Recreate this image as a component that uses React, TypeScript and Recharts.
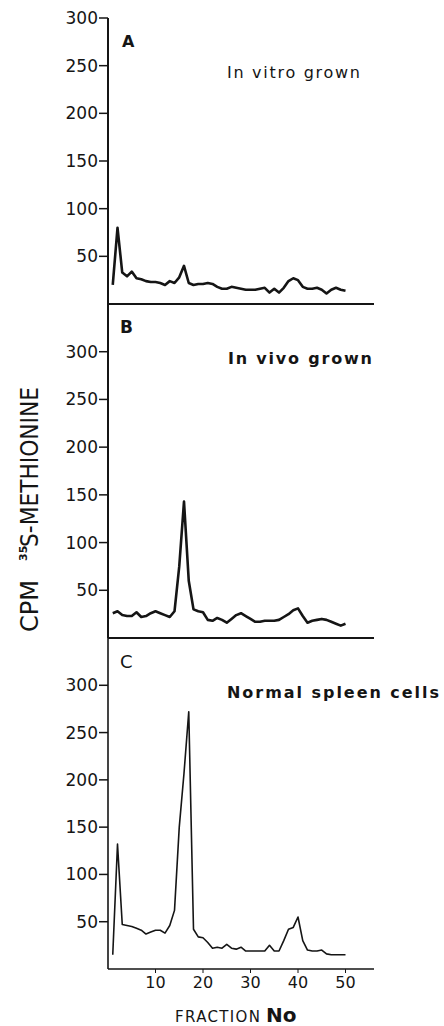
import { Line, LineChart, XAxis, YAxis } from 'recharts';

// Fraction numbers shared by all three gradients.
const FRACTIONS = [
  1, 2, 3, 4, 5, 6, 7, 8, 9, 10,
  11, 12, 13, 14, 15, 16, 17, 18, 19, 20,
  21, 22, 23, 24, 25, 26, 27, 28, 29, 30,
  31, 32, 33, 34, 35, 36, 37, 38, 39, 40,
  41, 42, 43, 44, 45, 46, 47, 48, 49, 50,
];

// A - in vitro grown
const IN_VITRO = [
  20, 80, 33, 29, 34, 27, 26, 24, 23, 23,
  22, 20, 24, 22, 28, 40, 22, 20, 21, 21,
  22, 21, 18, 16, 16, 18, 17, 16, 15, 15,
  15, 16, 17, 12, 16, 12, 17, 24, 27, 25,
  18, 16, 16, 17, 15, 11, 15, 17, 15, 14,
];

// B - in vivo grown
const IN_VIVO = [
  26, 28, 24, 23, 23, 27, 22, 23, 26, 28,
  26, 24, 22, 28, 75, 143, 60, 30, 28, 27,
  19, 18, 21, 19, 16, 20, 24, 26, 23, 20,
  17, 17, 18, 18, 18, 19, 22, 25, 29, 31,
  23, 16, 18, 19, 20, 19, 17, 15, 13, 15,
];

// C - normal spleen cells
const SPLEEN = [
  15, 132, 47, 46, 45, 43, 41, 37, 39, 41,
  41, 38, 46, 62, 150, 207, 272, 42, 34, 33,
  28, 22, 23, 22, 26, 22, 21, 23, 19, 19,
  19, 19, 19, 25, 19, 19, 30, 42, 44, 55,
  30, 20, 19, 19, 20, 16, 15, 15, 15, 15,
];

const Y_TICKS = [50, 100, 150, 200, 250, 300];
const X_TICKS = [10, 20, 30, 40, 50];

const INK = '#151515';
const FONT = '"DejaVu Sans", Verdana, sans-serif';

type PanelProps = {
  values: number[];
  top: number;
  height: number;
  marginTop: number;
  xAxisHeight: number;
  yMax: number;
  showXTicks: boolean;
  lineWidth: number;
  axisWidth: number;
};

function Panel({
  values,
  top,
  height,
  marginTop,
  xAxisHeight,
  yMax,
  showXTicks,
  lineWidth,
  axisWidth,
}: PanelProps) {
  const rows = FRACTIONS.map((f, i) => ({ fraction: f, cpm: values[i] }));
  return (
    <div style={{ position: 'absolute', left: 0, top }}>
      <LineChart
        width={444}
        height={height}
        data={rows}
        margin={{ top: marginTop, right: 70, bottom: 0, left: 0 }}
      >
        <XAxis
          dataKey="fraction"
          type="number"
          domain={[0, 56]}
          ticks={X_TICKS}
          interval={0}
          height={xAxisHeight}
          axisLine={{ stroke: INK, strokeWidth: axisWidth }}
          tickLine={showXTicks ? { stroke: INK, strokeWidth: 1 } : false}
          tickSize={4}
          tickMargin={4}
          tick={showXTicks ? { fill: INK, fontSize: 16, fontFamily: FONT } : false}
        />
        <YAxis
          type="number"
          domain={[0, yMax]}
          ticks={Y_TICKS}
          interval={0}
          width={108}
          axisLine={{ stroke: INK, strokeWidth: axisWidth }}
          tickLine={{ stroke: INK, strokeWidth: 1.5 }}
          tickSize={9}
          tickMargin={1}
          tick={{ fill: INK, fontSize: 17, fontFamily: FONT }}
        />
        <Line
          type="linear"
          dataKey="cpm"
          stroke={INK}
          strokeWidth={lineWidth}
          strokeLinejoin="round"
          dot={false}
          isAnimationActive={false}
        />
      </LineChart>
    </div>
  );
}

export default function App() {
  return (
    <div
      style={{
        position: 'absolute',
        left: 0,
        top: 0,
        width: 444,
        height: 1026,
        background: '#fff',
        fontFamily: FONT,
      }}
    >
      <Panel values={IN_VITRO} top={0} height={310} marginTop={18} xAxisHeight={6}
        yMax={300} showXTicks={false} lineWidth={2.6} axisWidth={2} />
      <Panel values={IN_VIVO} top={300} height={344} marginTop={4} xAxisHeight={6}
        yMax={350} showXTicks={false} lineWidth={2.6} axisWidth={2} />
      <Panel values={SPLEEN} top={630} height={396} marginTop={8} xAxisHeight={57}
        yMax={350} showXTicks lineWidth={1.6} axisWidth={1.6} />

      <svg
        width={444}
        height={1026}
        style={{ position: 'absolute', left: 0, top: 0, pointerEvents: 'none' }}
        fontFamily={FONT}
        fill={INK}
      >
        <text x={122} y={47} fontSize={16} fontWeight="bold">A</text>
        <text x={120} y={333} fontSize={17} fontWeight="bold">B</text>
        <text x={120} y={668} fontSize={18}>C</text>

        <text x={227} y={78} fontSize={16} textLength={133} lengthAdjust="spacing">
          In vitro grown
        </text>
        <text x={228} y={364} fontSize={16} fontWeight="bold" textLength={144} lengthAdjust="spacing">
          In vivo grown
        </text>
        <text x={227} y={698} fontSize={16} fontWeight="bold" textLength={212} lengthAdjust="spacing">
          Normal spleen cells
        </text>

        {/* rotated y label, read bottom to top */}
        <text transform="translate(38,632) rotate(-90)" fontSize={24} textLength={52} lengthAdjust="spacingAndGlyphs">
          CPM
        </text>
        <text transform="translate(27,561) rotate(-90)" fontSize={11} fontWeight="bold">
          35
        </text>
        <text transform="translate(38,547) rotate(-90)" fontSize={24} textLength={160} lengthAdjust="spacingAndGlyphs">
          S-METHIONINE
        </text>

        <text x={175} y={1022} fontSize={15} textLength={85} lengthAdjust="spacing">
          FRACTION
        </text>
        <text x={266} y={1022} fontSize={20} fontWeight="bold">
          No
        </text>
      </svg>
    </div>
  );
}
